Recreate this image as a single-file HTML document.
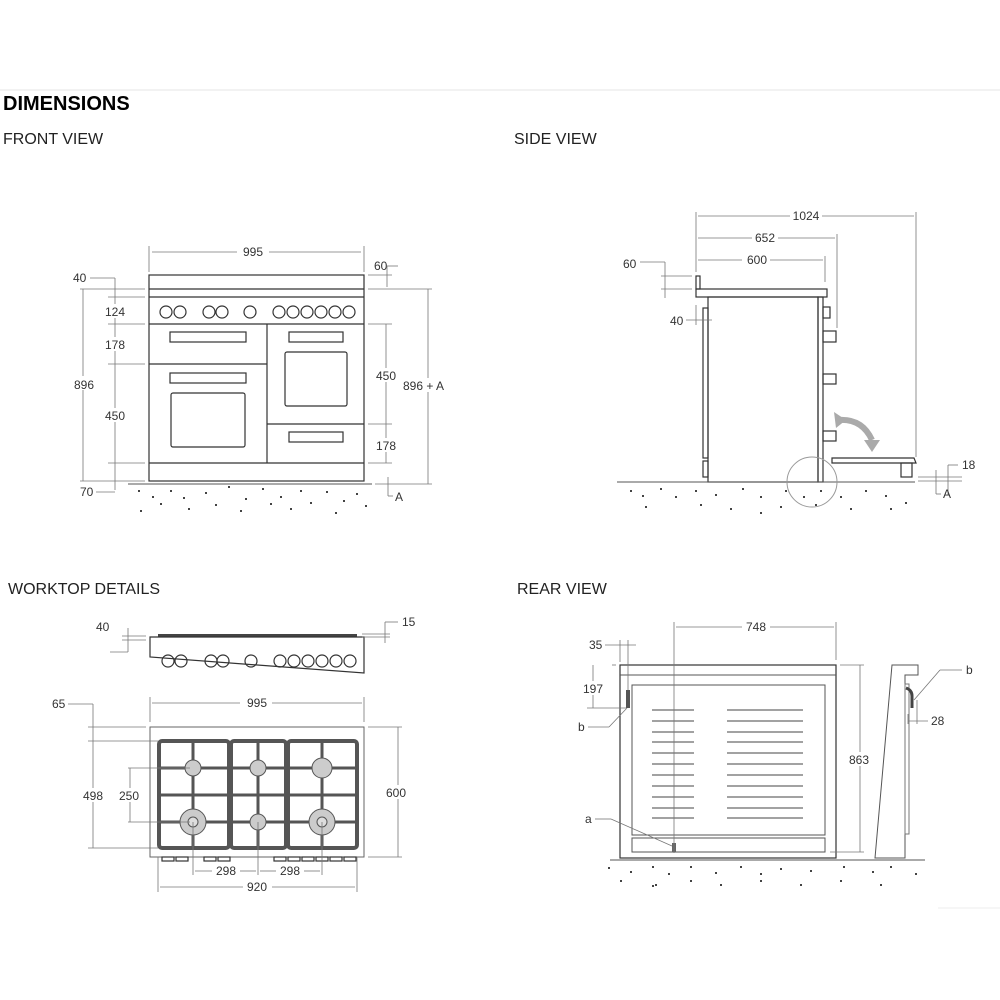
<!DOCTYPE html>
<html><head><meta charset="utf-8"><style>
body{margin:0;background:#fff;width:1000px;height:1000px;overflow:hidden}
svg{display:block}
text{font-family:"Liberation Sans",Arial,sans-serif;fill:#333}
.t{font-size:12px}
.d{stroke:#777;stroke-width:0.8;fill:none}
.k{stroke:#333;stroke-width:1.2;fill:none}
.g{stroke:#555;stroke-width:4;fill:none}
.gb{stroke:#555;stroke-width:3}
.dot{fill:#444}
</style></head><body>
<svg width="1000" height="1000" viewBox="0 0 1000 1000">
<line x1="0" y1="90" x2="1000" y2="90" stroke="#e6e6e6" stroke-width="1"/>
<text x="3" y="110" style="font-size:20px;font-weight:bold;fill:#000">DIMENSIONS</text>
<text x="3" y="144" style="font-size:16px;fill:#222">FRONT VIEW</text>
<text x="514" y="144" style="font-size:16px;fill:#222">SIDE VIEW</text>
<text x="8" y="594" style="font-size:16px;fill:#222">WORKTOP DETAILS</text>
<text x="517" y="594" style="font-size:16px;fill:#222">REAR VIEW</text>

<!-- FRONT VIEW -->
<g>
<rect x="149" y="275" width="215" height="206" class="k"/>
<line x1="149" y1="289" x2="364" y2="289" class="k"/>
<line x1="149" y1="297" x2="364" y2="297" class="k"/>
<line x1="149" y1="324" x2="364" y2="324" class="k" stroke-width="2"/>
<line x1="267" y1="324" x2="267" y2="463" class="k" stroke-width="2"/>
<line x1="149" y1="364" x2="267" y2="364" class="k" stroke-width="2"/>
<line x1="267" y1="424" x2="364" y2="424" class="k" stroke-width="2"/>
<line x1="149" y1="463" x2="364" y2="463" class="k" stroke-width="2"/>
<g class="k">
<circle cx="166" cy="312" r="6"/><circle cx="180" cy="312" r="6"/>
<circle cx="209" cy="312" r="6"/><circle cx="222" cy="312" r="6"/>
<circle cx="250" cy="312" r="6"/>
<circle cx="279" cy="312" r="6"/><circle cx="293" cy="312" r="6"/><circle cx="307" cy="312" r="6"/><circle cx="321" cy="312" r="6"/><circle cx="335" cy="312" r="6"/><circle cx="349" cy="312" r="6"/>
<rect x="170" y="332" width="76" height="10"/>
<rect x="170" y="373" width="76" height="10"/>
<rect x="171" y="393" width="74" height="54" rx="2"/>
<rect x="289" y="332" width="54" height="10"/>
<rect x="285" y="352" width="62" height="54" rx="2"/>
<rect x="289" y="432" width="54" height="10"/>
</g>
<line x1="128" y1="484" x2="372" y2="484" stroke="#555"/>
<!-- dims -->
<line x1="149" y1="246" x2="149" y2="272" class="d"/><line x1="364" y1="246" x2="364" y2="272" class="d"/>
<line x1="152" y1="252" x2="237" y2="252" class="d"/><line x1="269" y1="252" x2="361" y2="252" class="d"/>
<text x="253" y="256" class="t" text-anchor="middle">995</text>
<text x="73" y="282" class="t">40</text><line x1="90" y1="278" x2="115" y2="278" class="d"/><line x1="115" y1="278" x2="115" y2="490" class="d"/>
<line x1="80" y1="289" x2="145" y2="289" class="d"/><line x1="80" y1="481" x2="145" y2="481" class="d"/>
<line x1="83" y1="289" x2="83" y2="481" class="d"/>
<rect x="74" y="376" width="22" height="14" fill="#fff"/><text x="74" y="389" class="t">896</text>
<line x1="108" y1="297" x2="145" y2="297" class="d"/><line x1="108" y1="324" x2="145" y2="324" class="d"/>
<line x1="108" y1="364" x2="145" y2="364" class="d"/><line x1="108" y1="463" x2="145" y2="463" class="d"/>
<rect x="104" y="304" width="24" height="14" fill="#fff"/><text x="105" y="316" class="t">124</text>
<rect x="104" y="337" width="24" height="14" fill="#fff"/><text x="105" y="349" class="t">178</text>
<rect x="104" y="408" width="24" height="14" fill="#fff"/><text x="105" y="420" class="t">450</text>
<text x="80" y="496" class="t">70</text><line x1="96" y1="492" x2="115" y2="492" class="d"/>
<text x="374" y="270" class="t">60</text><line x1="387" y1="266" x2="387" y2="287" class="d"/><line x1="387" y1="266" x2="398" y2="266" class="d"/>
<line x1="368" y1="275" x2="392" y2="275" class="d"/><line x1="368" y1="289" x2="432" y2="289" class="d"/>
<line x1="368" y1="324" x2="392" y2="324" class="d"/><line x1="368" y1="424" x2="392" y2="424" class="d"/><line x1="368" y1="463" x2="392" y2="463" class="d"/>
<line x1="386" y1="324" x2="386" y2="463" class="d"/>
<rect x="375" y="368" width="24" height="14" fill="#fff"/><text x="376" y="380" class="t">450</text>
<rect x="375" y="438" width="24" height="14" fill="#fff"/><text x="376" y="450" class="t">178</text>
<line x1="428" y1="289" x2="428" y2="484" class="d"/><line x1="375" y1="484" x2="432" y2="484" class="d"/>
<rect x="402" y="378" width="46" height="14" fill="#fff"/><text x="403" y="390" class="t">896 + A</text>
<line x1="388" y1="477" x2="388" y2="496" class="d"/><line x1="388" y1="496" x2="393" y2="496" class="d"/>
<text x="395" y="501" class="t">A</text>
</g>

<!-- SIDE VIEW -->
<g>
<rect x="696" y="289" width="131" height="8" class="k"/>
<rect x="696" y="276" width="4" height="13" class="k"/>
<rect x="708" y="297" width="110" height="185" class="k"/>
<rect x="703" y="308" width="5" height="150" class="k"/>
<rect x="703" y="461" width="5" height="16" class="k"/>
<rect x="818" y="297" width="5" height="185" class="k"/>
<rect x="823" y="307" width="7" height="11" class="k"/>
<rect x="823" y="331" width="13" height="11" class="k"/>
<rect x="823" y="374" width="13" height="10" class="k"/>
<rect x="823" y="431" width="13" height="10" class="k"/>
<line x1="617" y1="482" x2="915" y2="482" stroke="#555"/>
<path d="M832 458 L914 458 L916 463 L832 463 Z" class="k"/>
<rect x="901" y="463" width="11" height="14" class="k"/>
<circle cx="812" cy="482" r="25" stroke="#999" fill="none"/>
<path d="M838 420 Q862 418 872 440" stroke="#aaa" stroke-width="6" fill="none"/>
<path d="M834 412 L836 428 L846 420 Z" fill="#aaa"/>
<path d="M864 440 L880 440 L872 452 Z" fill="#aaa"/>
<line x1="696" y1="212" x2="696" y2="272" class="d"/><line x1="916" y1="212" x2="916" y2="457" class="d"/>
<line x1="837" y1="234" x2="837" y2="328" class="d"/><line x1="825" y1="256" x2="825" y2="282" class="d"/>
<line x1="698" y1="216" x2="790" y2="216" class="d"/><line x1="822" y1="216" x2="914" y2="216" class="d"/>
<text x="806" y="220" class="t" text-anchor="middle">1024</text>
<line x1="698" y1="238" x2="752" y2="238" class="d"/><line x1="778" y1="238" x2="835" y2="238" class="d"/>
<text x="765" y="242" class="t" text-anchor="middle">652</text>
<line x1="698" y1="260" x2="742" y2="260" class="d"/><line x1="770" y1="260" x2="823" y2="260" class="d"/>
<text x="757" y="264" class="t" text-anchor="middle">600</text>
<text x="623" y="268" class="t">60</text><line x1="640" y1="262" x2="665" y2="262" class="d"/><line x1="665" y1="262" x2="665" y2="298" class="d"/>
<line x1="661" y1="276" x2="692" y2="276" class="d"/><line x1="661" y1="289" x2="692" y2="289" class="d"/>
<text x="670" y="325" class="t">40</text><line x1="686" y1="320" x2="712" y2="320" class="d"/><line x1="696" y1="305" x2="696" y2="325" class="d"/>
<text x="962" y="469" class="t">18</text><line x1="948" y1="465" x2="958" y2="465" class="d"/><line x1="948" y1="465" x2="948" y2="495" class="d"/>
<line x1="918" y1="477" x2="962" y2="477" class="d"/><line x1="918" y1="481" x2="962" y2="481" class="d"/>
<line x1="936" y1="470" x2="936" y2="494" class="d"/><line x1="936" y1="494" x2="941" y2="494" class="d"/>
<text x="943" y="498" class="t">A</text>
</g>

<!-- WORKTOP -->
<g>
<rect x="158" y="634" width="199" height="3" fill="#444"/>
<path d="M150 637 L364 637 L364 673 L150 657 Z" class="k"/>
<g class="k">
<circle cx="168" cy="661" r="6"/><circle cx="181" cy="661" r="6"/>
<circle cx="211" cy="661" r="6"/><circle cx="223" cy="661" r="6"/>
<circle cx="251" cy="661" r="6"/>
<circle cx="280" cy="661" r="6"/><circle cx="294" cy="661" r="6"/><circle cx="308" cy="661" r="6"/><circle cx="322" cy="661" r="6"/><circle cx="336" cy="661" r="6"/><circle cx="350" cy="661" r="6"/>
</g>
<text x="96" y="631" class="t">40</text><line x1="110" y1="652" x2="128" y2="652" class="d"/><line x1="128" y1="628" x2="128" y2="652" class="d"/>
<line x1="122" y1="636" x2="146" y2="636" class="d"/><line x1="122" y1="640" x2="146" y2="640" class="d"/>
<text x="402" y="626" class="t">15</text><line x1="385" y1="622" x2="398" y2="622" class="d"/><line x1="385" y1="622" x2="385" y2="643" class="d"/>
<line x1="362" y1="634" x2="390" y2="634" class="d"/><line x1="362" y1="637" x2="390" y2="637" class="d"/>

<rect x="150" y="727" width="214" height="130" stroke="#666" fill="none"/>
<rect x="159" y="741" width="70" height="107" rx="3" class="g"/>
<rect x="231" y="741" width="55" height="107" rx="3" class="g"/>
<rect x="288" y="741" width="69" height="107" rx="3" class="g"/>
<g class="gb">
<line x1="193" y1="741" x2="193" y2="848"/><line x1="159" y1="768" x2="229" y2="768"/><line x1="159" y1="795" x2="229" y2="795"/><line x1="159" y1="822" x2="229" y2="822"/>
<line x1="258" y1="741" x2="258" y2="848"/><line x1="231" y1="768" x2="286" y2="768"/><line x1="231" y1="795" x2="286" y2="795"/><line x1="231" y1="822" x2="286" y2="822"/>
<line x1="322" y1="741" x2="322" y2="848"/><line x1="288" y1="768" x2="357" y2="768"/><line x1="288" y1="795" x2="357" y2="795"/><line x1="288" y1="822" x2="357" y2="822"/>
</g>
<g fill="#ccc" stroke="#555">
<circle cx="193" cy="768" r="8"/><circle cx="258" cy="768" r="8"/><circle cx="322" cy="768" r="10"/>
<circle cx="193" cy="822" r="13"/><circle cx="258" cy="822" r="8"/><circle cx="322" cy="822" r="13"/>
<circle cx="193" cy="822" r="5" fill="#ddd"/><circle cx="322" cy="822" r="5" fill="#ddd"/>
</g>
<g class="k" stroke-width="1">
<rect x="162" y="857" width="12" height="4"/><rect x="176" y="857" width="12" height="4"/>
<rect x="204" y="857" width="12" height="4"/><rect x="218" y="857" width="12" height="4"/>
<rect x="274" y="857" width="12" height="4"/><rect x="288" y="857" width="12" height="4"/><rect x="302" y="857" width="12" height="4"/><rect x="316" y="857" width="12" height="4"/><rect x="330" y="857" width="12" height="4"/><rect x="344" y="857" width="12" height="4"/>
</g>
<line x1="150" y1="697" x2="150" y2="722" class="d"/><line x1="364" y1="697" x2="364" y2="722" class="d"/>
<line x1="152" y1="703" x2="240" y2="703" class="d"/><line x1="272" y1="703" x2="362" y2="703" class="d"/>
<text x="257" y="707" class="t" text-anchor="middle">995</text>
<text x="52" y="708" class="t">65</text><line x1="68" y1="704" x2="93" y2="704" class="d"/><line x1="93" y1="704" x2="93" y2="848" class="d"/>
<line x1="88" y1="727" x2="146" y2="727" class="d"/><line x1="88" y1="741" x2="158" y2="741" class="d"/><line x1="88" y1="848" x2="158" y2="848" class="d"/>
<rect x="82" y="788" width="24" height="14" fill="#fff"/><text x="83" y="800" class="t">498</text>
<line x1="128" y1="768" x2="190" y2="768" class="d"/><line x1="128" y1="822" x2="190" y2="822" class="d"/><line x1="130" y1="768" x2="130" y2="822" class="d"/>
<rect x="118" y="788" width="24" height="14" fill="#fff"/><text x="119" y="800" class="t">250</text>
<line x1="368" y1="727" x2="402" y2="727" class="d"/><line x1="368" y1="857" x2="402" y2="857" class="d"/><line x1="398" y1="727" x2="398" y2="857" class="d"/>
<rect x="385" y="785" width="24" height="14" fill="#fff"/><text x="386" y="797" class="t">600</text>
<line x1="193" y1="822" x2="193" y2="875" class="d"/><line x1="258" y1="822" x2="258" y2="875" class="d"/><line x1="322" y1="822" x2="322" y2="875" class="d"/>
<line x1="195" y1="871" x2="212" y2="871" class="d"/><line x1="240" y1="871" x2="256" y2="871" class="d"/>
<line x1="260" y1="871" x2="276" y2="871" class="d"/><line x1="304" y1="871" x2="320" y2="871" class="d"/>
<text x="226" y="875" class="t" text-anchor="middle">298</text><text x="290" y="875" class="t" text-anchor="middle">298</text>
<line x1="158" y1="857" x2="158" y2="892" class="d"/><line x1="357" y1="857" x2="357" y2="892" class="d"/>
<line x1="160" y1="887" x2="243" y2="887" class="d"/><line x1="272" y1="887" x2="355" y2="887" class="d"/>
<text x="257" y="891" class="t" text-anchor="middle">920</text>
</g>

<!-- REAR VIEW -->
<g>
<rect x="620" y="665" width="216" height="193" class="k" stroke="#555" stroke-width="1"/>
<line x1="620" y1="675" x2="836" y2="675" stroke="#555"/>
<rect x="632" y="685" width="193" height="150" stroke="#555" fill="none"/>
<rect x="632" y="838" width="193" height="14" stroke="#555" fill="none"/>
<rect x="626" y="690" width="4" height="18" fill="#555"/>
<rect x="672" y="843" width="4" height="9" fill="#666"/>
<g stroke="#444" stroke-width="1">
<line x1="652" y1="710" x2="694" y2="710"/><line x1="727" y1="710" x2="803" y2="710"/>
<line x1="652" y1="721" x2="694" y2="721"/><line x1="727" y1="721" x2="803" y2="721"/>
<line x1="652" y1="732" x2="694" y2="732"/><line x1="727" y1="732" x2="803" y2="732"/>
<line x1="652" y1="742" x2="694" y2="742"/><line x1="727" y1="742" x2="803" y2="742"/>
<line x1="652" y1="753" x2="694" y2="753"/><line x1="727" y1="753" x2="803" y2="753"/>
<line x1="652" y1="764" x2="694" y2="764"/><line x1="727" y1="764" x2="803" y2="764"/>
<line x1="652" y1="775" x2="694" y2="775"/><line x1="727" y1="775" x2="803" y2="775"/>
<line x1="652" y1="786" x2="694" y2="786"/><line x1="727" y1="786" x2="803" y2="786"/>
<line x1="652" y1="797" x2="694" y2="797"/><line x1="727" y1="797" x2="803" y2="797"/>
<line x1="652" y1="808" x2="694" y2="808"/><line x1="727" y1="808" x2="803" y2="808"/>
<line x1="652" y1="818" x2="694" y2="818"/><line x1="727" y1="818" x2="803" y2="818"/>
</g>
<path d="M892 665 L918 665 L918 675 L905 675 L905 858 L875 858 Z" stroke="#555" fill="none"/>
<rect x="905" y="684" width="4" height="150" stroke="#777" fill="none"/>
<path d="M906 688 Q912 690 912 696 L912 708" stroke="#444" stroke-width="3" fill="none"/>
<line x1="610" y1="860" x2="925" y2="860" stroke="#555"/>
<line x1="674" y1="622" x2="674" y2="853" class="d"/><line x1="836" y1="622" x2="836" y2="660" class="d"/>
<line x1="676" y1="627" x2="742" y2="627" class="d"/><line x1="770" y1="627" x2="834" y2="627" class="d"/>
<text x="756" y="631" class="t" text-anchor="middle">748</text>
<text x="589" y="649" class="t">35</text><line x1="605" y1="645" x2="636" y2="645" class="d"/>
<line x1="620" y1="640" x2="620" y2="662" class="d"/><line x1="628" y1="640" x2="628" y2="690" class="d"/>
<line x1="612" y1="665" x2="616" y2="665" class="d"/><line x1="587" y1="708" x2="626" y2="708" class="d"/>
<line x1="593" y1="665" x2="593" y2="708" class="d"/>
<rect x="582" y="681" width="24" height="14" fill="#fff"/><text x="583" y="693" class="t">197</text>
<text x="578" y="731" class="t">b</text><line x1="588" y1="727" x2="609" y2="727" class="d"/><line x1="609" y1="727" x2="627" y2="708" class="d"/>
<text x="585" y="823" class="t">a</text><line x1="595" y1="819" x2="611" y2="819" class="d"/><line x1="611" y1="819" x2="672" y2="846" class="d"/>
<line x1="840" y1="665" x2="864" y2="665" class="d"/><line x1="830" y1="852" x2="864" y2="852" class="d"/><line x1="860" y1="665" x2="860" y2="852" class="d"/>
<rect x="848" y="752" width="24" height="14" fill="#fff"/><text x="849" y="764" class="t">863</text>
<text x="966" y="674" class="t">b</text><line x1="940" y1="670" x2="962" y2="670" class="d"/><line x1="940" y1="670" x2="914" y2="700" class="d"/>
<line x1="908" y1="714" x2="908" y2="724" class="d"/><line x1="917" y1="700" x2="917" y2="724" class="d"/>
<line x1="908" y1="721" x2="928" y2="721" class="d"/><text x="931" y="725" class="t">28</text>
</g>
<line x1="938" y1="908" x2="1000" y2="908" stroke="#eee"/>

<!-- ground dots -->
<g class="dot">
<rect x="138" y="490" width="2" height="2"/><rect x="152" y="496" width="2" height="2"/><rect x="170" y="490" width="2" height="2"/><rect x="183" y="497" width="2" height="2"/><rect x="205" y="492" width="2" height="2"/><rect x="228" y="486" width="2" height="2"/><rect x="215" y="504" width="2" height="2"/><rect x="245" y="498" width="2" height="2"/><rect x="262" y="488" width="2" height="2"/><rect x="280" y="496" width="2" height="2"/><rect x="300" y="490" width="2" height="2"/><rect x="326" y="491" width="2" height="2"/><rect x="343" y="500" width="2" height="2"/><rect x="356" y="493" width="2" height="2"/><rect x="365" y="505" width="2" height="2"/><rect x="140" y="510" width="2" height="2"/><rect x="188" y="508" width="2" height="2"/><rect x="240" y="510" width="2" height="2"/><rect x="290" y="508" width="2" height="2"/><rect x="335" y="512" width="2" height="2"/><rect x="160" y="503" width="2" height="2"/><rect x="270" y="503" width="2" height="2"/><rect x="310" y="502" width="2" height="2"/>
<rect x="630" y="490" width="2" height="2"/><rect x="642" y="495" width="2" height="2"/><rect x="660" y="488" width="2" height="2"/><rect x="675" y="496" width="2" height="2"/><rect x="695" y="490" width="2" height="2"/><rect x="715" y="494" width="2" height="2"/><rect x="742" y="488" width="2" height="2"/><rect x="760" y="496" width="2" height="2"/><rect x="785" y="490" width="2" height="2"/><rect x="803" y="496" width="2" height="2"/><rect x="820" y="490" width="2" height="2"/><rect x="840" y="496" width="2" height="2"/><rect x="865" y="490" width="2" height="2"/><rect x="885" y="495" width="2" height="2"/><rect x="905" y="502" width="2" height="2"/><rect x="645" y="506" width="2" height="2"/><rect x="700" y="504" width="2" height="2"/><rect x="730" y="508" width="2" height="2"/><rect x="780" y="506" width="2" height="2"/><rect x="815" y="504" width="2" height="2"/><rect x="850" y="508" width="2" height="2"/><rect x="890" y="508" width="2" height="2"/><rect x="760" y="512" width="2" height="2"/>
<rect x="608" y="867" width="2" height="2"/><rect x="630" y="871" width="2" height="2"/><rect x="652" y="866" width="2" height="2"/><rect x="668" y="873" width="2" height="2"/><rect x="690" y="866" width="2" height="2"/><rect x="715" y="872" width="2" height="2"/><rect x="740" y="866" width="2" height="2"/><rect x="760" y="873" width="2" height="2"/><rect x="780" y="868" width="2" height="2"/><rect x="810" y="870" width="2" height="2"/><rect x="843" y="866" width="2" height="2"/><rect x="872" y="871" width="2" height="2"/><rect x="890" y="866" width="2" height="2"/><rect x="915" y="873" width="2" height="2"/><rect x="620" y="880" width="2" height="2"/><rect x="655" y="884" width="2" height="2"/><rect x="690" y="880" width="2" height="2"/><rect x="720" y="884" width="2" height="2"/><rect x="760" y="880" width="2" height="2"/><rect x="800" y="884" width="2" height="2"/><rect x="840" y="880" width="2" height="2"/><rect x="880" y="884" width="2" height="2"/><rect x="652" y="885" width="2" height="2"/>
</g>
</svg>
</body></html>
